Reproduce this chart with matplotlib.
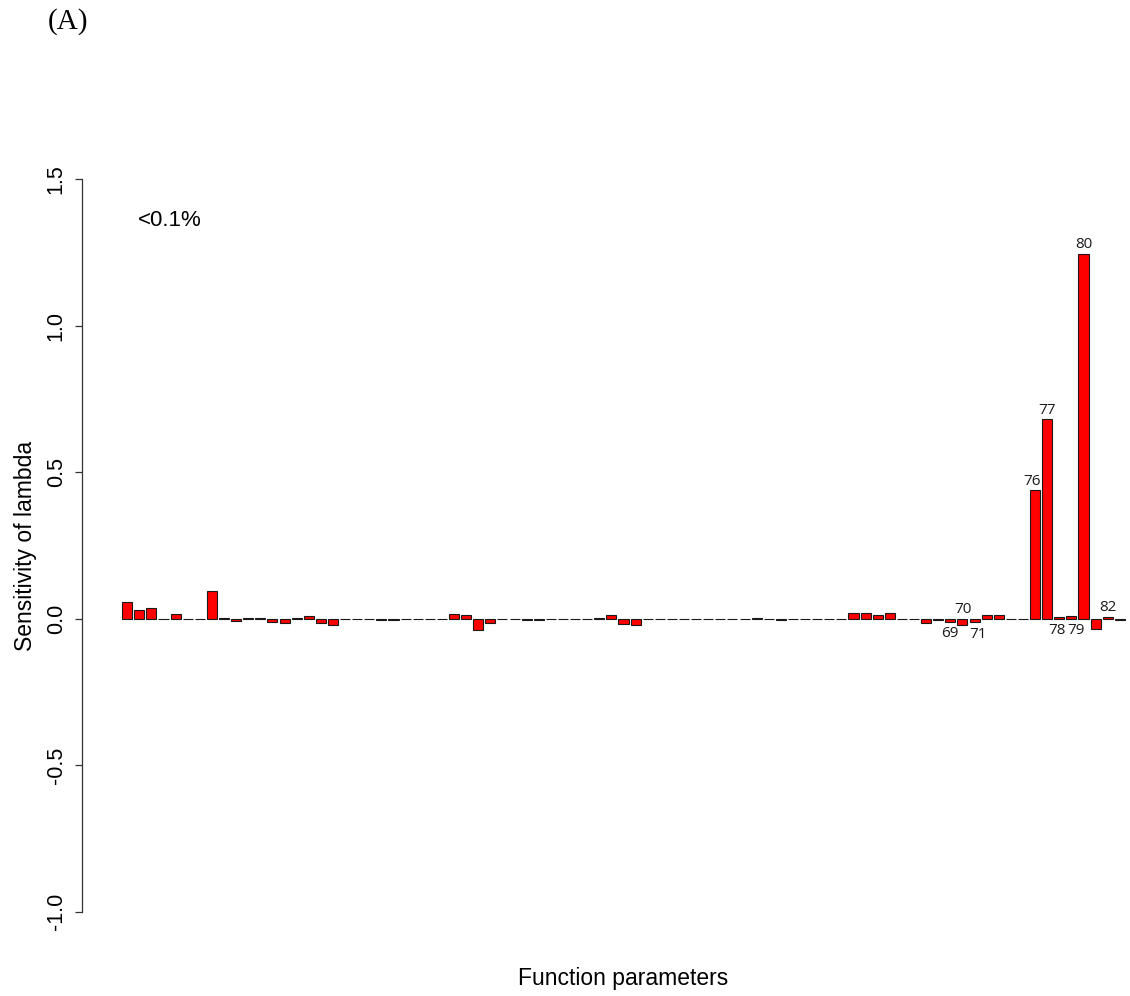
"""Sensitivity of lambda to function parameters (R barplot style)."""

import matplotlib
matplotlib.use("Agg")
import matplotlib.pyplot as plt
import numpy as np

# Sensitivity values for parameters 1..83
SENSITIVITY = [
    0.057, 0.030, 0.036, 0.0, 0.017, 0.0, 0.0, 0.093, 0.002, -0.008,
    0.002, 0.002, -0.010, -0.016, 0.003, 0.011, -0.015, -0.020, 0.0, 0.0,
    0.0, -0.003, -0.003, 0.0, 0.0, 0.0, 0.0, 0.015, 0.014, -0.037,
    -0.014, 0.0, 0.0, -0.003, -0.003, 0.0, 0.0, 0.0, 0.0, 0.003,
    0.014, -0.017, -0.021, 0.0, 0.0, 0.0, 0.0, 0.0, 0.0, 0.0,
    0.0, 0.0, 0.004, 0.0, -0.004, 0.0, 0.0, 0.0, 0.0, 0.0,
    0.021, 0.018, 0.014, 0.018, 0.0, 0.0, -0.014, -0.006, -0.010, -0.021,
    -0.012, 0.014, 0.014, 0.0, 0.0, 0.438, 0.681, 0.006, 0.009, 1.245,
    -0.034, 0.006, -0.003,
]

# Parameters that get a number printed next to their bar, and where
LABELLED = [69, 70, 71, 76, 77, 78, 79, 80, 82]
LABEL_SIDE = ["below", "above", "below", "above", "above",
              "below", "below", "above", "above"]
LABEL_NUDGE = [0.0, 0.0, 2.4, -2.5, 0.0, -1.8, 3.2, 0.0, 0.0]  # points

Y_TICKS = [-1.0, -0.5, 0.0, 0.5, 1.0, 1.5]

values = np.array(SENSITIVITY)
n = len(values)
# barplot(): width 1, space 0.2
x = 0.7 + 1.2 * np.arange(n)

fig = plt.figure(figsize=(11.3, 9.96), dpi=100)
# plot region runs a little past the right edge of the picture
ax = fig.add_axes([82 / 1130, 55 / 996, 1083 / 1130, 791 / 996])

ax.bar(x, values, width=1.0, color="red", edgecolor="#1a1a1a", linewidth=0.8)

ax.set_xlim(-3.78, 103.58)
ax.set_ylim(-1.1, 1.6)

for side in ("top", "right", "bottom"):
    ax.spines[side].set_visible(False)
ax.spines["left"].set_bounds(-1.0, 1.5)
ax.spines["left"].set_linewidth(0.9)
ax.spines["left"].set_color("#333333")

ax.set_xticks([])
ax.set_yticks(Y_TICKS)
ax.set_yticklabels([f"{t:.1f}" for t in Y_TICKS], fontsize=15.5,
                   family="Liberation Sans")
for lab in ax.get_yticklabels():
    lab.set_rotation(90)
    lab.set_va("center")
ax.tick_params(axis="y", length=5, width=0.9, color="#333333", pad=6)

ax.set_ylabel("Sensitivity of lambda", fontsize=16.5, family="Liberation Sans")
ax.yaxis.set_label_coords(-0.042, 0.5)
ax.set_xlabel("Function parameters", fontsize=16.5, family="Liberation Sans")
ax.xaxis.set_label_coords(0.5, -0.033)

# numbers next to the important bars
for num, side, nudge in zip(LABELLED, LABEL_SIDE, LABEL_NUDGE):
    v = values[num - 1]
    if side == "above":
        y0, dy = max(v, 0.0), 6.5
    else:
        y0, dy = min(v, 0.0), -8.5
    ax.annotate(str(num), (x[num - 1], y0), xytext=(nudge, dy),
                textcoords="offset points", ha="center", va="center",
                fontsize=11, family="Open Sans", color="#1a1a1a")

ax.text(1.78, 1.358, "<0.1%", ha="left", va="center", fontsize=16,
        family="Liberation Sans")

fig.text(48 / 1130, 1 - 22 / 996, "(A)", ha="left", va="center",
         fontsize=21, family="Liberation Serif")

fig.savefig("out.png", dpi=100)
plt.close(fig)
